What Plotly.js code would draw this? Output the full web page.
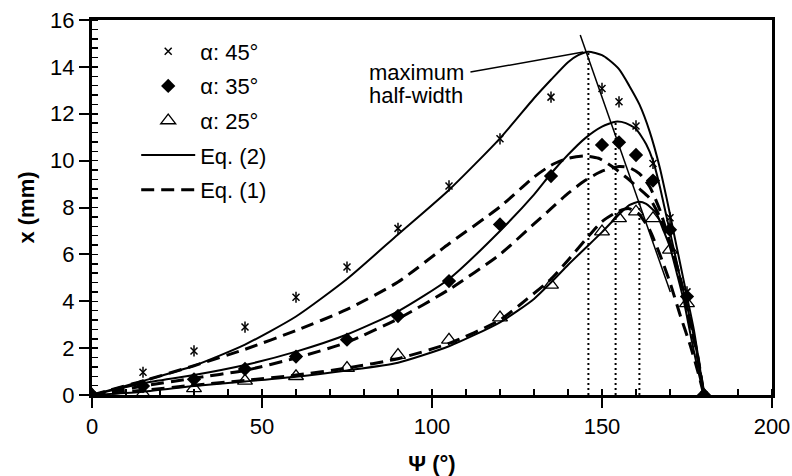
<!DOCTYPE html>
<html>
<head>
<meta charset="utf-8">
<script src="https://cdn.plot.ly/plotly-3.0.1.min.js"></script>
<style>html,body{margin:0;padding:0;background:#fff;}#chart{width:792px;height:476px;}</style>
</head>
<body>
<div id="chart"></div>
<script>
// Measured points (psi in degrees, x in mm)
const psi = [0, 15, 30, 45, 60, 75, 90, 105, 120, 135, 150, 155, 160, 165, 170, 175, 180];
const alpha45 = [0, 0.97, 1.88, 2.9, 4.17, 5.46, 7.11, 8.92, 10.93, 12.71, 13.08, 12.51, 11.48, 9.88, 7.56, 4.4, 0];
const alpha35 = [0, 0.38, 0.67, 1.11, 1.64, 2.36, 3.37, 4.86, 7.28, 9.34, 10.67, 10.78, 10.24, 9.15, 7.05, 4.2, 0];
const alpha25 = [0, 0.05, 0.28, 0.6, 0.8, 1.15, 1.7, 2.35, 3.3, 4.7, 6.97, 7.54, 7.82, 7.54, 6.19, 3.91, 0];

// Eq. (2) curves (solid)
const eq2x45 = [0, 15, 30, 45, 60, 75, 90, 105, 120, 130, 135, 140, 143, 146, 150, 152, 155, 158, 161, 164, 167, 169, 171, 173, 175, 177, 180];
const eq2y45 = [0, 0.6, 1.25, 2.15, 3.35, 4.95, 6.85, 8.75, 10.95, 12.66, 13.45, 14.2, 14.5, 14.65, 14.5, 14.3, 13.9, 13.2, 12.4, 11.25, 9.7, 8.4, 7.0, 5.6, 4.2, 2.8, 0];
const eq2x35 = [0, 15, 30, 45, 60, 75, 90, 105, 120, 130, 135, 140, 145, 150, 154, 157, 160, 163, 165, 167, 169, 171, 173, 175, 177, 180];
const eq2y35 = [0, 0.5, 0.85, 1.28, 1.85, 2.58, 3.57, 4.95, 7.0, 8.55, 9.45, 10.25, 10.95, 11.45, 11.66, 11.6, 11.35, 10.7, 10.0, 8.9, 7.6, 6.3, 5.0, 3.8, 2.5, 0];
const eq2x25 = [0, 15, 30, 45, 60, 75, 90, 105, 120, 130, 135, 140, 145, 150, 155, 158, 161, 163, 166, 168, 170, 172, 174, 176, 178, 180];
const eq2y25 = [0, 0.14, 0.38, 0.58, 0.78, 1.05, 1.38, 2.08, 3.1, 4.1, 4.8, 5.55, 6.25, 6.95, 7.7, 8.1, 8.25, 8.15, 7.75, 7.05, 6.3, 5.2, 4.05, 2.6, 1.2, 0];

// Eq. (1) curves (dashed)
const eq1x45 = [0, 15, 30, 45, 60, 75, 90, 105, 120, 130, 135, 140, 145, 149, 153, 157, 161, 164, 167, 170, 173, 176, 178, 180];
const eq1y45 = [0, 0.6, 1.25, 1.95, 2.75, 3.65, 4.82, 6.45, 8.03, 9.3, 9.8, 10.1, 10.2, 10.1, 9.75, 9.3, 8.8, 8.4, 7.6, 6.5, 5.0, 3.1, 1.8, 0];
const eq1x35 = [0, 15, 30, 45, 60, 75, 90, 105, 120, 130, 135, 140, 145, 150, 155, 158, 161, 164, 167, 170, 173, 176, 178, 180];
const eq1y35 = [0, 0.38, 0.72, 1.05, 1.58, 2.25, 3.25, 4.5, 6.0, 7.3, 7.95, 8.6, 9.15, 9.55, 9.75, 9.7, 9.45, 8.9, 7.9, 6.5, 4.9, 3.0, 1.7, 0];
const eq1x25 = [0, 15, 30, 45, 60, 75, 90, 105, 120, 128, 135, 140, 145, 150, 155, 158, 161, 164, 167, 170, 173, 176, 178, 180];
const eq1y25 = [0, 0.2, 0.42, 0.62, 0.85, 1.15, 1.55, 2.2, 3.2, 4.1, 4.95, 5.75, 6.6, 7.4, 7.85, 7.95, 7.7, 7.05, 6.0, 4.8, 3.4, 2.1, 1.1, 0];

// Maximum half-width positions (dotted verticals)
const maxPsi = [146, 154, 161];
const maxX = [14.63, 11.62, 8.2];
// Locus line through maxima and pointer line to label
const locusPsi = [143.6, 170.1];
const locusX = [15.36, 4.39];
const pointerPsi = [111.3, 144.5];
const pointerX = [13.78, 14.63];
const labelLines = ['maximum', 'half-width'];
const labelPsi = [95.4, 95.4];
const labelX = [13.78, 12.8];

const legendNames = ['α: 45°', 'α: 35°', 'α: 25°', 'Eq. (2)', 'Eq. (1)'];

const vx = [], vy = [];
maxPsi.forEach((p, i) => { vx.push(p, p, null); vy.push(0, maxX[i], null); });

const FONT = 'Liberation Sans, Arial, sans-serif';
const traces = [];
traces.push({x: vx, y: vy, mode: 'lines', line: {color: '#000', width: 2, dash: '2px,3px'}, showlegend: false, hoverinfo: 'skip'});
traces.push({x: locusPsi, y: locusX, mode: 'lines', line: {color: '#000', width: 1.5}, showlegend: false});
traces.push({x: pointerPsi, y: pointerX, mode: 'lines', line: {color: '#000', width: 1.5}, showlegend: false});

const solid = [[eq2x45, eq2y45], [eq2x35, eq2y35], [eq2x25, eq2y25]];
solid.forEach((c, i) => traces.push({x: c[0], y: c[1], mode: 'lines', name: legendNames[3], legendrank: 4,
  legendgroup: 'g4', showlegend: i === 0, line: {color: '#000', width: 2, shape: 'spline', smoothing: 0.6}}));
const dashed = [[eq1x45, eq1y45], [eq1x35, eq1y35], [eq1x25, eq1y25]];
dashed.forEach((c, i) => traces.push({x: c[0], y: c[1], mode: 'lines', name: legendNames[4], legendrank: 5,
  legendgroup: 'g5', showlegend: i === 0, line: {color: '#000', width: 3, dash: '13px,7px', shape: 'spline', smoothing: 0.6}}));

traces.push({x: psi, y: alpha45, mode: 'markers', name: legendNames[0], legendrank: 1, legendgroup: 'g1',
  marker: {symbol: 'x-thin-open', size: 7, color: '#000', line: {color: '#000', width: 1.5}}});
traces.push({x: psi, y: alpha45, mode: 'markers', showlegend: false, legendgroup: 'g1',
  marker: {symbol: 'line-ns-open', size: 8, color: '#000', line: {color: '#000', width: 1.5}}});
traces.push({x: psi, y: alpha35, mode: 'markers', name: legendNames[1], legendrank: 2, legendgroup: 'g2',
  marker: {symbol: 'diamond', size: 11, color: '#000', line: {width: 0}}});
traces.push({x: psi, y: alpha25, mode: 'markers', name: legendNames[2], legendrank: 3, legendgroup: 'g3',
  marker: {symbol: 'triangle-up-open', size: 13, color: '#000', line: {color: '#000', width: 1.3}}});

const axisCommon = {
  showline: true, linewidth: 3, linecolor: '#000', mirror: true,
  showgrid: false, zeroline: false,
  ticks: 'outside', ticklen: 10, tickwidth: 2, tickcolor: '#000',
  tickfont: {family: FONT, size: 22, color: '#000'}
};

const layout = {
  width: 792, height: 476,
  margin: {l: 92, r: 20, t: 20, b: 81},
  paper_bgcolor: '#fff', plot_bgcolor: '#fff',
  font: {family: FONT, size: 22, color: '#000'},
  xaxis: Object.assign({}, axisCommon, {
    range: [0, 200], tick0: 0, dtick: 50,
    minor: {dtick: 10, ticks: 'inside', ticklen: 6, tickwidth: 1.5, tickcolor: '#000', showgrid: false},
    title: {text: '<b>Ψ (°)</b>', font: {family: FONT, size: 22, color: '#000'}, standoff: 18}
  }),
  yaxis: Object.assign({}, axisCommon, {
    range: [0, 16], tick0: 0, dtick: 2,
    minor: {dtick: 0.4, ticks: 'inside', ticklen: 6, tickwidth: 1.5, tickcolor: '#000', showgrid: false},
    title: {text: '<b>x (mm)</b>', font: {family: FONT, size: 22, color: '#000'}, standoff: 10}
  }),
  legend: {x: 0.065, y: 0.972, xanchor: 'left', yanchor: 'top', bgcolor: 'rgba(0,0,0,0)',
    itemwidth: 54, tracegroupgap: 3, font: {family: FONT, size: 22, color: '#000'}, traceorder: 'grouped'},
  annotations: labelLines.map((t, i) => ({x: labelPsi[i], y: labelX[i], xref: 'x', yref: 'y', text: t,
    showarrow: false, font: {family: FONT, size: 22, color: '#000'}}))
};

Plotly.newPlot('chart', traces, layout, {displayModeBar: false, staticPlot: true});
</script>
</body>
</html>
